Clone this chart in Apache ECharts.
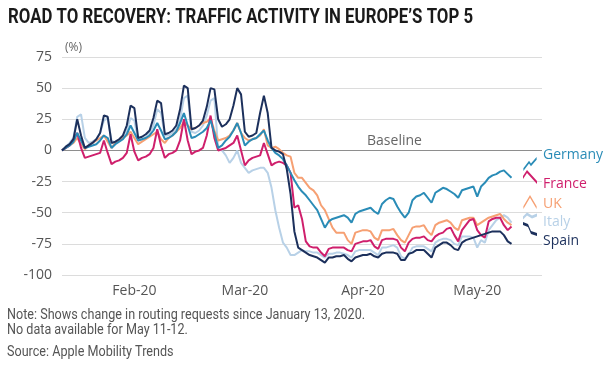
<!DOCTYPE html>
<html><head><meta charset="utf-8">
<script src="https://cdn.jsdelivr.net/npm/echarts@6/dist/echarts.min.js"></script>
<style>html,body{margin:0;padding:0;background:#fff}#c{width:616px;height:369px}</style>
</head><body><div id="c"></div>
<script>
// ---- data ----
const dayCount = 127; // Jan 13 .. May 18 2020 (axis extent)
const tickDates = ['2020-02-01', '2020-03-01', '2020-04-01', '2020-05-01'];
const tickLabels = ['Feb-20', 'Mar-20', 'Apr-20', 'May-20'];
const yTicks = [-100, -75, -50, -25, 0, 25, 50, 75];

// daily % change vs Jan 13, Jan 13 .. May 10 (no data May 11-12)
const germany = [
  0, 2, 4, 7, 14, 8, 2,
  3, 4, 5, 8, 12, 10, 2,
  5, 7, 9, 13, 20, 14, 8,
  9, 10, 12, 16, 22, 16, 9,
  10, 12, 15, 22, 30, 20, 10,
  11, 13, 15, 18, 24, 14, 2,
  4, 8, 11, 16, 22, 14, 4,
  7, 9, 10, 13, 16, 8, 2,
  -2, -4, -7, -12, -18, -24, -29,
  -33, -36, -40, -44, -48, -55, -62,
  -57, -55, -54, -53, -52, -54, -58,
  -51, -49, -48, -47, -46, -49, -51,
  -43, -40, -38, -39, -45, -50, -54,
  -50, -40, -37, -36, -34, -38, -42,
  -34, -32, -30, -31, -33, -35, -38,
  -32, -31, -30, -29, -37, -29, -26,
  -22, -20, -19, -17, -16, -19, -22
];
const france = [
  0, 2, 4, 9, 14, 2, -6,
  -5, -4, -3, -2, 8, -2, -11,
  -9, -8, -6, -2, 13, -1, -8,
  -6, -5, -3, 2, 17, 4, -6,
  -3, -2, 0, 8, 25, 8, -3,
  -1, 0, 2, 12, 28, 10, 0,
  1, 2, 4, 6, 12, 0, -12,
  -8, -6, -5, -4, 6, -3, -12,
  -10, -9, -10, -12, -18, -46, -44,
  -55, -73, -77, -78, -78, -82, -85,
  -79, -78, -78, -78, -78, -80, -81,
  -75, -74, -73, -73, -72, -77, -79,
  -72, -71, -71, -71, -72, -78, -81,
  -74, -71, -70, -70, -69, -72, -73,
  -69, -67, -66, -63, -62, -68, -73,
  -64, -60, -56, -55, -64, -68, -70,
  -57, -55, -54, -54, -60, -64, -61
];
const uk = [
  0, 2, 4, 6, 10, 5, 1,
  4, 6, 8, 10, 12, 7, 2,
  6, 8, 10, 12, 15, 10, 5,
  7, 9, 11, 13, 15, 9, 6,
  10, 12, 15, 18, 23, 20, 17,
  18, 20, 22, 23, 26, 16, 8,
  9, 10, 12, 16, 22, 14, 10,
  8, 9, 10, 12, 17, 4, 2,
  3, 1, -2, -4, -5, -18, -22,
  -22, -26, -30, -32, -36, -44, -48,
  -55, -62, -66, -66, -66, -72, -75,
  -66, -65, -64, -64, -65, -70, -72,
  -64, -64, -64, -63, -68, -72, -74,
  -68, -62, -61, -61, -60, -65, -68,
  -60, -58, -57, -56, -58, -62, -64,
  -56, -55, -54, -54, -60, -58, -56,
  -54, -53, -52, -51, -55, -58, -60
];
const italy = [
  0, 3, 6, 10, 27, 29, 10,
  6, 7, 9, 14, 24, 26, 8,
  6, 8, 10, 16, 26, 24, 8,
  9, 11, 14, 20, 33, 30, 12,
  12, 14, 17, 25, 42, 44, 15,
  14, 16, 20, 28, 40, 42, 1,
  0, -4, -10, -6, 0, -10, -14,
  -18, -16, -15, -14, -14, -18, -30,
  -48, -62, -74, -78, -84, -84, -82,
  -80, -81, -81, -82, -82, -84, -86,
  -83, -83, -82, -82, -83, -84, -86,
  -81, -80, -80, -80, -80, -82, -84,
  -78, -78, -77, -76, -78, -85, -87,
  -84, -78, -77, -77, -77, -79, -81,
  -74, -72, -71, -71, -72, -75, -76,
  -69, -69, -69, -70, -78, -72, -74,
  -64, -60, -56, -54, -52, -54, -58
];
const spain = [
  0, 3, 5, 9, 25, 12, 2,
  4, 6, 9, 14, 28, 27, 6,
  7, 9, 12, 20, 36, 34, 10,
  11, 13, 16, 26, 40, 38, 13,
  14, 16, 20, 33, 52, 50, 17,
  18, 20, 24, 35, 50, 49, 25,
  19, 21, 25, 36, 50, 45, 15,
  11, 12, 14, 30, 44, 30, 2,
  0, -1, -3, -15, -35, -65, -78,
  -80, -82, -84, -85, -86, -88, -90,
  -86, -86, -85, -85, -84, -87, -89,
  -86, -85, -84, -84, -83, -85, -86,
  -83, -82, -82, -82, -83, -88, -88,
  -83, -82, -80, -80, -80, -83, -86,
  -78, -76, -74, -74, -76, -79, -80,
  -74, -72, -71, -70, -69, -68, -67,
  -66, -65, -65, -65, -68, -73, -75
];

const names = ['Germany', 'France', 'UK', 'Italy', 'Spain'];
const colors = ['#2a8cb7', '#cf1f6c', '#f6a073', '#b8d1e7', '#1c305c'];

// ---- build ----
const categories = [];
const d0 = Date.UTC(2020, 0, 13);
for (let i = 0; i < dayCount; i++) {
  categories.push(new Date(d0 + i * 86400000).toISOString().slice(0, 10));
}
const seriesData = { Germany: germany, France: france, UK: uk, Italy: italy, Spain: spain };
const drawOrder = ['Italy', 'UK', 'France', 'Germany', 'Spain'];

const icons = {
  Germany: 'path://M0,10.6L6,2.6L8,5.6L14,-1.4L14,1.4L8,8.4L6,5.4L0,13.4Z',
  France: 'path://M0,4.6L4,-1.4L14,9.6L14,12.4L4,1.4L0,7.4Z',
  UK: 'path://M0,10.6L7,-1.4L14,10.6L14,13.4L7,1.4L0,13.4Z',
  Italy: 'path://M0,2.6L4,-1.4L9,1.6L14,-0.4L14,2.4L9,4.4L4,1.4L0,5.4Z',
  Spain: 'path://M0,-1.4L5,0.6L8,7.6L14,9.6L14,12.4L8,10.4L5,3.4L0,1.4Z'
};
const textCenter = { Germany: 156, France: 185, UK: 205, Italy: 223, Spain: 242 };
const iconCenter = { Germany: 164, France: 177, UK: 202, Italy: 216, Spain: 229 };

const FONT = "'Open Sans', sans-serif";
const series = drawOrder.map(n => {
  const c = colors[names.indexOf(n)];
  return {
    name: n, type: 'line', data: seriesData[n], showSymbol: false, symbol: 'none',
    lineStyle: { color: c, width: 2 }, itemStyle: { color: c }, z: 3
  };
});
// baseline marker on first series
series[0].markLine = {
  silent: true, symbol: ['none', 'none'], z: 1,
  data: [
    { yAxis: 0, lineStyle: { color: '#8e8e8e', width: 1, type: 'solid' }, label: { show: false } },
    [
      { coord: [categories[0], 0], lineStyle: { color: 'rgba(0,0,0,0)', width: 1 },
        label: { show: true, formatter: 'Baseline', position: 'insideEndTop', color: '#666', fontSize: 14, fontFamily: FONT, distance: 2 } },
      { coord: [categories[95], 0] }
    ]
  ]
};

const legends = [];
names.forEach((n, k) => {
  legends.push({
    data: [n], left: 523, top: iconCenter[n] - 7, padding: 0, icon: icons[n], itemWidth: 14, itemHeight: 14,
    selectedMode: false, itemStyle: { borderWidth: 0 }, formatter: () => '',
    textStyle: { fontSize: 1 }
  });
  legends.push({
    data: [n], left: 538, top: textCenter[n] - 8, padding: 0, icon: 'rect', itemWidth: 0, itemHeight: 14,
    selectedMode: false, itemStyle: { color: 'rgba(0,0,0,0)', borderWidth: 0 },
    textStyle: { color: colors[k], fontSize: 14, fontFamily: FONT }
  });
});

const option = {
  animation: false,
  backgroundColor: '#fff',
  title: [
    { text: '(%)', left: 60, top: 37, textStyle: { fontFamily: FONT, fontWeight: 'normal', fontSize: 12, color: '#666' } }
  ],
  graphic: [
    { type: 'text', x: 8, y: 7, scaleX: 0.8, silent: true,
      style: { text: 'ROAD TO RECOVERY: TRAFFIC ACTIVITY IN EUROPE’S TOP 5', font: "bold 21px Roboto, sans-serif", fill: '#1a1a1a', align: 'left', verticalAlign: 'top' } },
    { type: 'text', x: 7, y: 308, scaleX: 0.9, silent: true,
      style: { text: 'Note: Shows change in routing requests since January 13, 2020.', font: "14px Roboto, sans-serif", fill: '#555', align: 'left', verticalAlign: 'top' } },
    { type: 'text', x: 7, y: 323, scaleX: 0.9, silent: true,
      style: { text: 'No data available for May 11-12.', font: "14px Roboto, sans-serif", fill: '#555', align: 'left', verticalAlign: 'top' } },
    { type: 'text', x: 7, y: 345, scaleX: 0.9, silent: true,
      style: { text: 'Source: Apple Mobility Trends', font: "14px Roboto, sans-serif", fill: '#555', align: 'left', verticalAlign: 'top' } }
  ],
  legend: legends,
  grid: { left: 62, top: 57, width: 480, height: 218, containLabel: false },
  xAxis: {
    type: 'category', data: categories, boundaryGap: false,
    axisLine: { show: false }, axisTick: { show: false }, splitLine: { show: false },
    axisLabel: {
      interval: (idx, val) => tickDates.indexOf(val) >= 0,
      formatter: (val) => tickLabels[tickDates.indexOf(val)] || '',
      color: '#555', fontSize: 14, fontFamily: FONT, margin: 9
    }
  },
  yAxis: {
    type: 'value', min: yTicks[0], max: yTicks[yTicks.length - 1], interval: 25,
    axisLine: { show: false }, axisTick: { show: false },
    axisLabel: { color: '#555', fontSize: 14, fontFamily: FONT, margin: 10 },
    splitLine: { lineStyle: { color: '#dcdcdc', width: 1 } }
  },
  series: series
};
const chart = echarts.init(document.getElementById('c'), null, { renderer: 'canvas' });
chart.setOption(option);
</script></body></html>
